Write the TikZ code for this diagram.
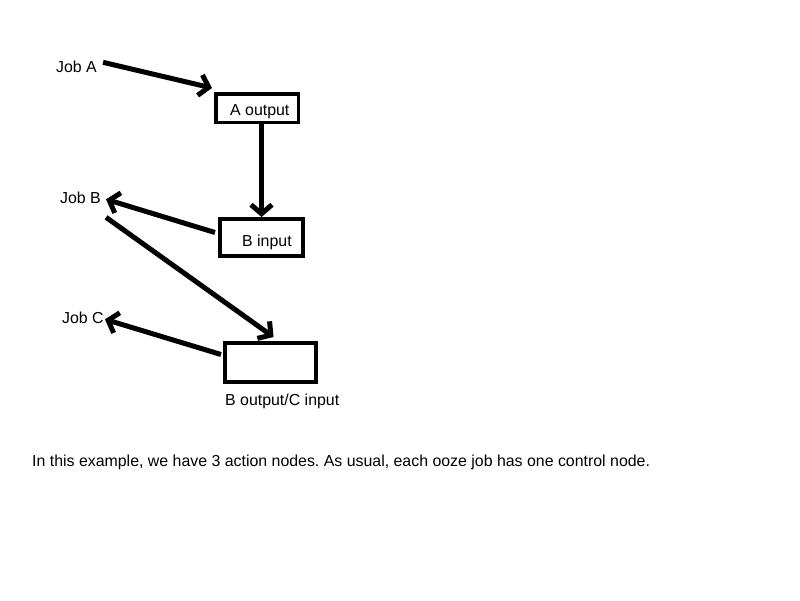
\documentclass[tikz,border=0pt]{standalone}
\usepackage{fontspec}
\setmainfont{Liberation Sans}
\usetikzlibrary{arrows.meta}
\frenchspacing
\begin{document}
\begin{tikzpicture}[x=1pt,y=-1pt,
  lbl/.style={font=\fontsize{15.9}{18}\selectfont, inner sep=0pt, anchor=base west},
  boxn/.style={draw, line width=#1, inner sep=0pt},
  arr/.style={line width=5pt, -{Straight Barb[length=9pt,width=21pt]}}]
\useasboundingbox (0,0) rectangle (800,600);
% text nodes
\node[lbl] (ja) at (56,72) {Job A};
\node[lbl] (jb) at (60,203) {Job B};
\node[lbl] (jc) at (62,323) {Job C};
% boxes
\node[boxn=3.5pt, minimum width=82.5pt, minimum height=28.5pt] (ao) at (257,108) {};
\node[boxn=4pt, minimum width=83pt, minimum height=37pt] (bi) at (261.5,237.5) {};
\node[boxn=4pt, minimum width=91pt, minimum height=39pt] (bc) at (270.5,362.5) {};
\node[lbl] (aot) at (230,115) {A output};
\node[lbl] (bit) at (242,246) {B input};
\node[lbl] (bct) at (225,405) {B output/C input};
\node[lbl] (cap) at (32,466) {In this example, we have 3 action nodes. As usual, each ooze job has one control node.};
% connectors
\draw[arr] ([shift={(6,-4)}]ja.east) -- ([shift={(-2,-4)}]ao.north west);
\draw[arr] ([yshift=3]ao.south -| bi.north) -- (bi.north);
\draw[arr] ([shift={(-3,-5)}]bi.west) -- ([shift={(5,2)}]jb.east);
\draw[arr] ([shift={(5,14)}]jb.south east) -- ([shift={(3,-4)}]bc.north);
\draw[arr] ([shift={(-2,-8)}]bc.west) -- ([shift={(1,2)}]jc.east);
\end{tikzpicture}
\end{document}
